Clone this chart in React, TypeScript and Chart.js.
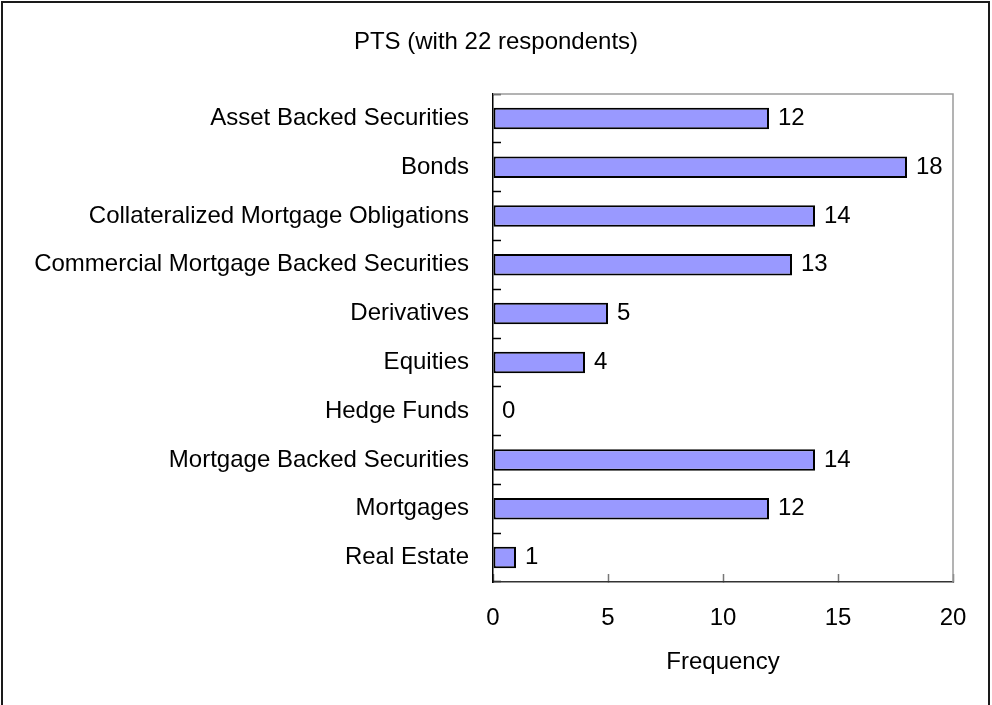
import React, { useEffect, useRef } from "react";
import { Chart, registerables } from "chart.js";

Chart.register(...registerables);

const categories = [
  "Asset Backed Securities",
  "Bonds",
  "Collateralized Mortgage Obligations",
  "Commercial Mortgage Backed Securities",
  "Derivatives",
  "Equities",
  "Hedge Funds",
  "Mortgage Backed Securities",
  "Mortgages",
  "Real Estate",
];
const frequencies = [12, 18, 14, 13, 5, 4, 0, 14, 12, 1];
const chartTitle = "PTS (with 22 respondents)";
const xAxisTitle = "Frequency";
const xMin = 0;
const xMax = 20;
const xStep = 5;

const FONT = "'Liberation Sans', Arial, Helvetica, sans-serif";

const frameAndLabels = {
  id: "frameAndLabels",
  beforeDraw(chart: any) {
    const ctx = chart.ctx;
    ctx.save();
    ctx.fillStyle = "#ffffff";
    ctx.fillRect(0, 0, chart.width, chart.height);
    ctx.strokeStyle = "#1a1a1a";
    ctx.lineWidth = 2;
    ctx.strokeRect(2, 2, chart.width - 5, chart.height + 20);
    ctx.restore();
  },
  beforeDatasetsDraw(chart: any) {
    const { ctx, chartArea } = chart;
    ctx.save();
    ctx.strokeStyle = "#9a9a9a";
    ctx.lineWidth = 1.5;
    ctx.beginPath();
    ctx.moveTo(chartArea.left, chartArea.top);
    ctx.lineTo(chartArea.right, chartArea.top);
    ctx.lineTo(chartArea.right, chartArea.bottom);
    ctx.stroke();
    ctx.restore();
  },
  afterDatasetsDraw(chart: any) {
    const ctx = chart.ctx;
    const meta = chart.getDatasetMeta(0);
    ctx.save();
    ctx.fillStyle = "#000";
    ctx.font = `24px ${FONT}`;
    ctx.textAlign = "left";
    ctx.textBaseline = "middle";
    meta.data.forEach((bar: any, i: number) => {
      const v = chart.data.datasets[0].data[i];
      ctx.fillText(String(v), bar.x + 9, bar.y);
    });
    ctx.restore();
  },
};

export default function App() {
  const ref = useRef<HTMLCanvasElement | null>(null);

  useEffect(() => {
    if (!ref.current) return;
    const chart = new Chart(ref.current, {
      type: "bar",
      data: {
        labels: categories,
        datasets: [
          {
            data: frequencies,
            backgroundColor: "#9999FF",
            borderColor: "#000000",
            borderWidth: 2,
            borderSkipped: false,
            categoryPercentage: 0.44,
            barPercentage: 1,
          },
        ],
      },
      options: {
        indexAxis: "y",
        responsive: false,
        animation: false,
        devicePixelRatio: 1,
        layout: { padding: { left: 0, right: 0, top: 0, bottom: 0 } },
        plugins: {
          legend: { display: false },
          tooltip: { enabled: false },
          title: {
            display: true,
            text: chartTitle,
            color: "#000",
            font: { family: FONT, size: 24, weight: "normal", lineHeight: 1.2 },
            padding: { top: 27.6, bottom: 37.6 },
          },
        },
        scales: {
          x: {
            type: "linear",
            min: xMin,
            max: xMax,
            ticks: {
              stepSize: xStep,
              color: "#000",
              padding: 29.6,
              font: { family: FONT, size: 24, lineHeight: 1.2 },
            },
            grid: {
              drawOnChartArea: false,
              drawTicks: true,
              tickLength: -8,
              tickColor: "#777",
              tickWidth: 1.5,
            },
            border: { display: true, color: "#333", width: 1.5 },
            title: {
              display: true,
              text: xAxisTitle,
              color: "#000",
              font: { family: FONT, size: 24, lineHeight: 1.2 },
              padding: { top: 0, bottom: 28 },
            },
            afterFit(scale: any) {
              scale.height = 123;
              scale.paddingLeft = 0;
              scale.paddingRight = 39;
            },
          },
          y: {
            type: "category",
            ticks: {
              color: "#000",
              padding: 32,
              autoSkip: false,
              font: { family: FONT, size: 24, lineHeight: 1.2 },
            },
            grid: {
              drawOnChartArea: false,
              drawTicks: true,
              offset: true,
              tickLength: -8,
              tickColor: "#000",
              tickWidth: 1.5,
            },
            border: { display: true, color: "#000", width: 1.5 },
            afterFit(scale: any) {
              scale.width = 493;
              scale.paddingTop = 0;
              scale.paddingBottom = 0;
            },
          },
        },
      },
      plugins: [frameAndLabels],
    });
    return () => chart.destroy();
  }, []);

  return (
    <div style={{ position: "absolute", left: 0, top: 0, width: 992, height: 705, background: "#fff" }}>
      <canvas ref={ref} width={992} height={705} style={{ display: "block", width: 992, height: 705 }} />
    </div>
  );
}
